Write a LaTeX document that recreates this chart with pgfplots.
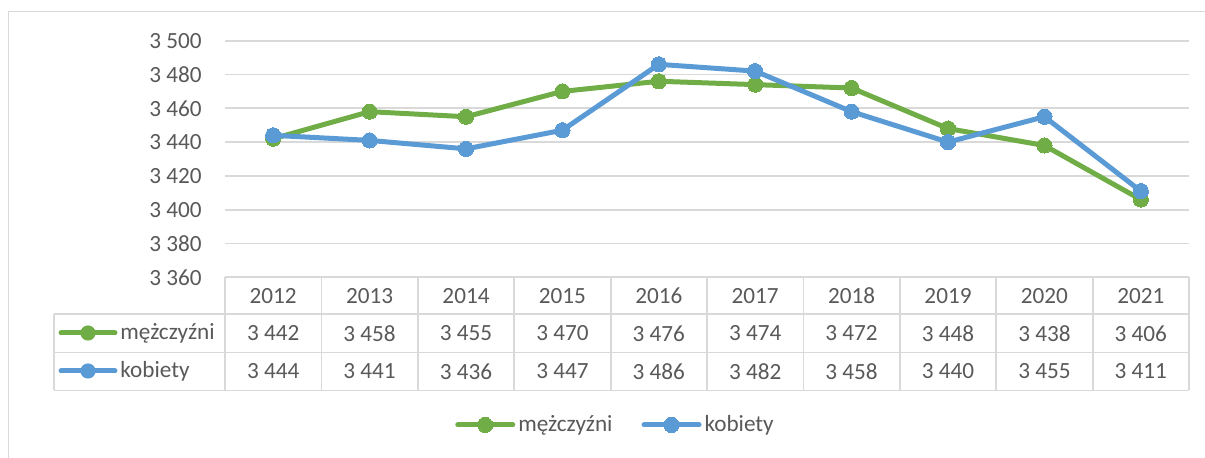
\documentclass[border=0pt]{standalone}
\usepackage{fontspec}
\setmainfont{Carlito}
\usepackage{pgfplots}
\pgfplotsset{compat=1.18}
\definecolor{mgreen}{HTML}{70AD47}
\definecolor{mblue}{HTML}{5B9BD5}
\definecolor{gridc}{HTML}{D9D9D9}
\definecolor{txt}{HTML}{595959}
\begin{document}
\begin{tikzpicture}[font=\fontsize{11.6}{13}\selectfont]
\useasboundingbox (0,0) rectangle (602.5pt,229pt);
\begin{axis}[
  at={(112.5pt,90.35pt)}, anchor=south west,
  width=482pt, height=118.3pt, scale only axis,
  xmin=-0.5, xmax=9.5, ymin=3360, ymax=3500,
  axis line style={draw=none},
  xtick=\empty,
  ytick={3360,3380,...,3500},
  yticklabels={3 360,3 380,3 400,3 420,3 440,3 460,3 480,3 500},
  yticklabel style={text=txt, inner sep=0pt, anchor=east, xshift=-11.5pt},
  major tick length=0pt,
  ymajorgrids, grid style={gridc, line width=0.9pt},
  clip=false,
  legend columns=2,
  legend style={at={(0.4056,-0.624)}, anchor=center, draw=none, fill=none,
    inner sep=0pt, text=txt, font=\fontsize{11.6}{13}\selectfont,
    nodes={inner sep=1.5pt},
    /tikz/every even column/.append style={column sep=13pt}},
  legend image code/.code={
    \draw[#1, mark=none, line cap=round] (0pt,0pt) -- (27.5pt,0pt);
    \draw[#1, only marks] plot coordinates {(13.75pt,0pt)};
  },
]
\addplot[mgreen, line width=2.5pt, line join=round, mark=*, mark size=3.8pt, mark options={fill=mgreen, draw=mgreen, line width=0pt}]
  coordinates {(0,3442)(1,3458)(2,3455)(3,3470)(4,3476)(5,3474)(6,3472)(7,3448)(8,3438)(9,3406)};
\addlegendentry{mężczyźni}
\addplot[mblue, line width=2.5pt, line join=round, mark=*, mark size=3.8pt, mark options={fill=mblue, draw=mblue, line width=0pt}]
  coordinates {(0,3444)(1,3441)(2,3436)(3,3447)(4,3486)(5,3482)(6,3458)(7,3440)(8,3455)(9,3411)};
\addlegendentry{kobiety}
\end{axis}
\begin{scope}[x=0.5pt,y=-0.5pt,yshift=229pt]
  % outer frame
  \draw[gridc, line width=0.9pt] (8.5,458) -- (8.5,11.5) -- (1205,11.5);
  % table grid
  \begin{scope}[gridc, line width=0.9pt]
    \draw (54,314) -- (1189,314);
    \draw (54,352.5) -- (1189,352.5);
    \draw (54,390.5) -- (1189,390.5);
    \draw (54,314) -- (54,390.5);
    \foreach \k in {0,...,10} \draw ({225+96.4*\k},277.3) -- ({225+96.4*\k},390.5);
  \end{scope}
  % header
  \foreach \y [count=\i from 0] in {2012,2013,2014,2015,2016,2017,2018,2019,2020,2021}
    \node[text=txt] at ({273.2+96.4*\i},296) {\y};
  \foreach \v [count=\i from 0] in {3 442,3 458,3 455,3 470,3 476,3 474,3 472,3 448,3 438,3 406}
    \node[text=txt] at ({273.2+96.4*\i},333.5) {\v};
  \foreach \v [count=\i from 0] in {3 444,3 441,3 436,3 447,3 486,3 482,3 458,3 440,3 455,3 411}
    \node[text=txt] at ({273.2+96.4*\i},371.5) {\v};
  % row keys
  \draw[mgreen, line width=2.5pt, line cap=round] (61,333) -- (115,333);
  \fill[mgreen] (88,333) circle (3.8pt);
  \node[anchor=west, text=txt, inner sep=0pt] at (120,333) {mężczyźni};
  \draw[mblue, line width=2.5pt, line cap=round] (61,371) -- (115,371);
  \fill[mblue] (88,371) circle (3.8pt);
  \node[anchor=west, text=txt, inner sep=0pt] at (120,371) {kobiety};
\end{scope}
\end{tikzpicture}
\end{document}
